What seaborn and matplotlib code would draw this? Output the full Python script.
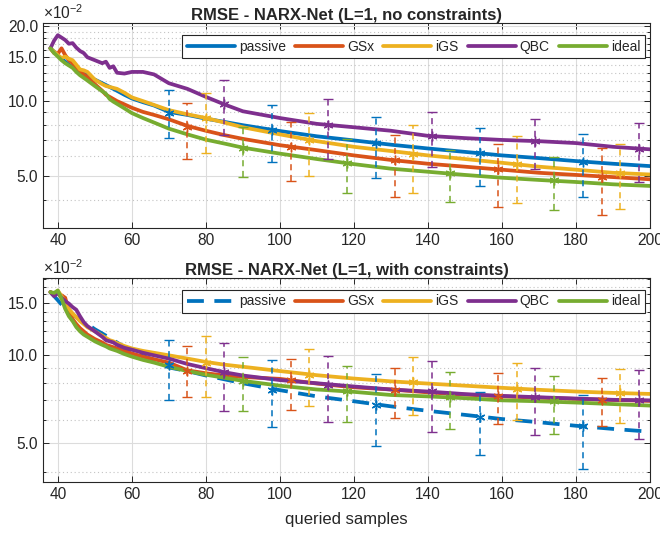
import matplotlib
matplotlib.use("Agg")
import matplotlib.pyplot as plt
import seaborn as sns
import numpy as np
from matplotlib.ticker import FixedLocator, FuncFormatter, NullFormatter

# values, in units of 1e-2
x_curve = [38, 39, 40, 41, 42, 43, 44, 45, 46, 47, 48, 50, 52, 53, 54, 55, 56, 58, 60,
           63, 66, 70, 75, 80, 85, 90, 100, 110, 120, 130, 140, 150, 160, 170, 180, 190, 200]

passive = [16.3, 15.8, 15.3, 14.8, 14.4, 14.0, 13.7, 13.4, 13.1, 12.9, 12.7, 12.2, 11.8, 11.6, 11.4, 11.2, 11.0, 10.6, 10.25,
           9.9, 9.6, 9.05, 8.8, 8.5, 8.25, 8.0, 7.58, 7.22, 6.95, 6.68, 6.45, 6.25, 6.05, 5.9, 5.74, 5.6, 5.48]

top_gsx = [16.3, 15.6, 15.5, 16.3, 15.3, 14.6, 14.2, 13.6, 13.2, 12.8, 12.5, 11.7, 11.0, 10.6, 10.4, 10.2, 10.0, 9.7, 9.4,
           9.05, 8.8, 8.45, 7.95, 7.6, 7.3, 7.05, 6.65, 6.35, 6.05, 5.8, 5.6, 5.45, 5.3, 5.15, 5.05, 4.95, 4.85]
top_igs = [16.3, 15.8, 15.3, 14.9, 15.1, 14.8, 14.6, 14.0, 13.4, 13.3, 13.1, 12.2, 11.7, 11.5, 11.4, 11.3, 11.2, 10.8, 10.35,
           10.0, 9.65, 9.2, 8.85, 8.55, 8.2, 7.85, 7.35, 6.9, 6.55, 6.3, 6.05, 5.85, 5.65, 5.45, 5.3, 5.15, 5.07]
top_qbc = [16.3, 17.5, 18.4, 18.0, 17.6, 17.0, 17.1, 16.4, 15.9, 15.6, 15.0, 14.6, 14.2, 14.4, 13.6, 13.8, 13.0, 12.9, 13.1,
           13.1, 12.8, 11.8, 11.2, 10.4, 9.7, 9.1, 8.55, 8.1, 7.85, 7.6, 7.25, 7.1, 6.98, 6.9, 6.78, 6.55, 6.4]
top_ideal = [16.3, 15.6, 15.1, 14.6, 14.2, 13.9, 13.6, 13.1, 12.7, 12.4, 12.1, 11.5, 10.95, 10.7, 10.2, 9.95, 9.75, 9.35, 8.95,
             8.55, 8.2, 7.75, 7.35, 7.0, 6.75, 6.5, 6.15, 5.85, 5.58, 5.35, 5.2, 5.05, 4.92, 4.82, 4.73, 4.63, 4.56]

bot_gsx = [16.3, 16.0, 16.2, 15.9, 15.6, 14.0, 13.2, 12.7, 12.3, 12.0, 11.7, 11.3, 11.0, 10.8, 10.7, 10.6, 10.5, 10.3, 10.1,
           9.85, 9.65, 9.4, 8.85, 8.65, 8.5, 8.4, 8.28, 7.98, 7.75, 7.62, 7.45, 7.32, 7.22, 7.15, 7.08, 7.02, 6.97]
bot_igs = [16.3, 16.0, 16.5, 15.8, 15.0, 14.3, 13.8, 13.4, 13.0, 12.7, 12.4, 12.0, 11.6, 11.4, 11.2, 11.1, 10.95, 10.7, 10.5,
           10.3, 10.15, 9.95, 9.7, 9.45, 9.25, 9.1, 8.8, 8.52, 8.3, 8.12, 7.98, 7.85, 7.72, 7.6, 7.5, 7.42, 7.36]
bot_qbc = [16.3, 15.8, 16.2, 15.6, 15.2, 14.9, 14.5, 14.2, 13.5, 12.9, 12.5, 12.0, 11.5, 11.2, 11.1, 11.0, 10.8, 10.55, 10.4,
           10.15, 9.95, 9.7, 9.3, 9.0, 8.72, 8.5, 8.2, 8.0, 7.8, 7.62, 7.5, 7.35, 7.25, 7.17, 7.1, 7.03, 7.0]
bot_ideal = [16.3, 16.2, 16.5, 15.5, 14.3, 13.5, 13.0, 12.4, 12.0, 11.7, 11.5, 11.1, 10.8, 10.67, 10.5, 10.4, 10.3, 10.05, 9.85,
             9.6, 9.4, 9.1, 8.8, 8.55, 8.35, 8.15, 7.85, 7.62, 7.48, 7.3, 7.22, 7.12, 7.0, 6.95, 6.88, 6.8, 6.72]

# error bar positions per method
eb_x = {
    "passive": [70, 98, 126, 154, 182],
    "GSx": [75, 103, 131, 159, 187],
    "iGS": [80, 108, 136, 164, 192],
    "QBC": [85, 113, 141, 169, 197],
    "ideal": [90, 118, 146, 174],
}

# (center, low, high) for each error bar
top_eb = {
    "passive": ([8.97, 7.65, 6.76, 6.17, 5.70], [7.08, 5.67, 4.92, 4.56, 4.10], [11.1, 9.63, 8.6, 7.81, 7.35]),
    "GSx": ([7.89, 6.56, 5.79, 5.32, 4.97], [5.83, 4.79, 4.13, 3.76, 3.49], [9.84, 8.21, 7.3, 6.7, 6.46]),
    "iGS": ([8.52, 6.97, 6.13, 5.57, 5.12], [6.17, 5.01, 4.26, 3.9, 3.67], [10.74, 8.93, 8.0, 7.23, 6.7]),
    "QBC": ([9.73, 8.0, 7.23, 6.91, 6.42], [7.3, 5.85, 5.41, 5.32, 4.74], [12.1, 10.16, 9.06, 8.44, 8.14]),
    "ideal": ([6.49, 5.62, 5.12, 4.82], [4.97, 4.28, 3.92, 3.65], [7.89, 7.02, 6.36, 5.98]),
}
bot_eb = {
    "passive": ([9.2, 7.61, 6.77, 6.15, 5.71], [7.04, 5.67, 4.91, 4.56, 4.1], [11.2, 9.62, 8.6, 7.45, 7.32]),
    "GSx": ([8.78, 8.23, 7.61, 7.22, 7.04], [7.19, 6.47, 6.1, 5.83, 5.71], [10.67, 9.67, 9.01, 8.67, 8.34]),
    "iGS": ([9.37, 8.56, 8.06, 7.65, 7.42], [7.17, 6.68, 6.23, 5.99, 5.87], [11.6, 10.45, 9.79, 9.37, 8.95]),
    "QBC": ([8.71, 7.91, 7.51, 7.17, 7.0], [6.43, 5.91, 5.45, 5.36, 5.18], [10.95, 9.92, 9.49, 9.01, 8.85]),
    "ideal": ([8.16, 7.51, 7.17, 6.94], [6.43, 5.91, 5.6, 5.4], [9.82, 9.13, 8.74, 8.44]),
}

methods = ["passive", "GSx", "iGS", "QBC", "ideal"]
colors = {"passive": "#0072BD", "GSx": "#D95319", "iGS": "#EDB120", "QBC": "#7E2F8E", "ideal": "#77AC30"}

sns.set_style("ticks")
plt.rcParams["font.family"] = ["Liberation Sans", "DejaVu Sans"]
plt.rcParams["mathtext.fontset"] = "custom"
plt.rcParams["mathtext.rm"] = "Liberation Sans"
plt.rcParams["mathtext.it"] = "Liberation Sans:italic"

fig = plt.figure(figsize=(6.6, 5.35), dpi=100)
ax1 = fig.add_axes([43 / 660, 307 / 535, 607 / 660, 205 / 535])
ax2 = fig.add_axes([43 / 660, 53 / 535, 607 / 660, 204 / 535])

panels = [
    (ax1, {"passive": passive, "GSx": top_gsx, "iGS": top_igs, "QBC": top_qbc, "ideal": top_ideal}, top_eb,
     "RMSE - NARX-Net (L=1, no constraints)", (3.09, 20.6), False),
    (ax2, {"passive": passive, "GSx": bot_gsx, "iGS": bot_igs, "QBC": bot_qbc, "ideal": bot_ideal}, bot_eb,
     "RMSE - NARX-Net (L=1, with constraints)", (3.7, 18.2), True),
]

dark = "#262626"
for ax, curves, ebs, title, ylim, dashed_passive in panels:
    for m in methods:
        sns.lineplot(x=x_curve, y=curves[m], ax=ax, color=colors[m], lw=2.7, label=m, zorder=2)
        if dashed_passive and m == "passive":
            ax.lines[-1].set_dashes((4.5, 2.8))
    for m in methods:
        c, lo, hi = (np.array(v) for v in ebs[m])
        eb = ax.errorbar(eb_x[m], c, yerr=[c - lo, hi - c], ls="none", marker=(6, 2, 0), ms=7, mew=1.0,
                         color=colors[m], ecolor=colors[m], elinewidth=1.1, capsize=3.8, capthick=1.1, zorder=3)
        eb[2][0].set_linestyle((0, (4, 3)))

    ax.set_yscale("log")
    ax.set_xlim(36, 200)
    ax.set_ylim(*ylim)
    ax.yaxis.set_major_locator(FixedLocator([5, 10, 15, 20]))
    ax.yaxis.set_major_formatter(FuncFormatter(lambda v, p: f"{v:.1f}"))
    ax.yaxis.set_minor_locator(FixedLocator([3, 4, 6, 7, 8, 9, 11, 12, 13, 14, 16, 17, 18, 19]))
    ax.yaxis.set_minor_formatter(NullFormatter())
    ax.set_xticks(range(40, 201, 20))
    ax.grid(which="major", color="#dcdcdc", lw=0.8)
    ax.grid(which="minor", axis="y", color="#c4c4c4", ls=(0, (1, 2.5)), lw=0.8)
    ax.set_axisbelow(True)
    ax.tick_params(which="both", direction="in", top=True, right=True, colors=dark, labelsize=11.2, width=0.7)
    ax.tick_params(which="major", length=4)
    ax.tick_params(which="minor", length=2.5)
    for s in ax.spines.values():
        s.set_color(dark)
        s.set_linewidth(0.8)
    ax.set_xlabel("")
    ax.set_title(title, fontweight="bold", fontsize=12, pad=2)
    ax.text(0.0, 1.006, r"$\times10^{-2}$", transform=ax.transAxes, ha="left", va="bottom",
            fontsize=11.2, color=dark)
    leg = ax.legend(loc="upper right", bbox_to_anchor=(0.992, 0.943), borderaxespad=0, ncol=5, frameon=True,
                    fancybox=False, edgecolor=dark, framealpha=1, handlelength=3.45, columnspacing=0.65,
                    handletextpad=0.3, borderpad=0.35, fontsize=10)
    leg.get_frame().set_linewidth(0.8)

ax2.set_xlabel("queried samples", fontsize=12, color=dark, labelpad=7)

fig.savefig("out.png", dpi=100)
